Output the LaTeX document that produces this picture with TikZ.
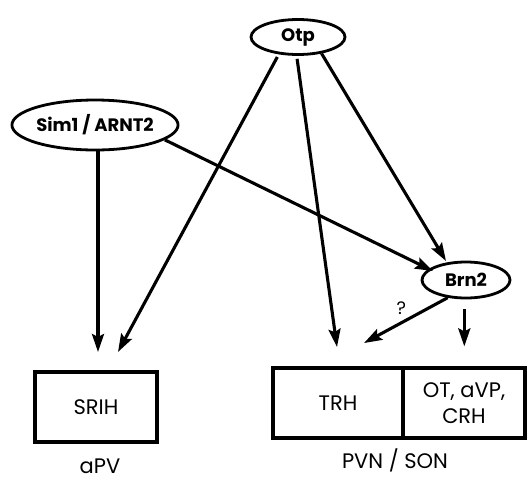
\documentclass[tikz,border=0pt]{standalone}
\usepackage{fontspec}
\setmainfont{Poppins}
\usetikzlibrary{arrows.meta,shapes.geometric}
\begin{document}
\begin{tikzpicture}[x=1pt,y=-1pt,
  ell/.style={ellipse,draw,line width=2.8pt,inner sep=0pt,font=\fontsize{18}{20}\selectfont\bfseries},
  cellbox/.style={rectangle,draw,line width=3.4pt,inner sep=0pt,minimum height=70pt,align=center,font=\fontsize{21}{26}\selectfont},
  lbl/.style={font=\fontsize{21}{25}\selectfont,inner sep=1pt},
  arr/.style={line width=3.1pt,-{Stealth[length=18pt,width=12pt,inset=3pt]}}]
\useasboundingbox (0,0) rectangle (527,483);
\node[ell,minimum width=94pt,minimum height=35pt] (otp) at (298,37) {Otp};
\node[ell,minimum width=166pt,minimum height=50pt] (sim) at (95,125) {Sim1 / ARNT2};
\node[ell,minimum width=88pt,minimum height=36pt] (brn) at (466,280) {Brn2};
\node[cellbox,minimum width=122pt] (srih) at (96,407) {SRIH};
\node[cellbox,minimum width=130pt] (trh) at (338,403) {TRH};
\node[cellbox,minimum width=122pt] (ot) at (464,403) {OT, aVP,\\CRH};
\node[lbl] (apv) at (100,466) {aPV};
\node[lbl] (pvn) at (395,460) {PVN / SON};
\coordinate (t1) at (98,352);
\coordinate (t2) at (118,352);
\coordinate (t3) at (337,347);
\coordinate (t4) at (446,261);
\coordinate (t5) at (433,271);
\coordinate (t6) at (364,343);
\draw[arr] (sim.south -| t1) -- (t1);
\draw[arr,shorten <=3pt] (otp.222) -- (t2);
\draw[arr,shorten <=3pt] (otp.266) -- (t3);
\draw[arr] (otp.325) -- (t4);
\draw[arr] (sim.348) -- (t5);
\draw[arr] (brn.224) -- node[pos=0.45,above left=-1pt,font=\fontsize{18}{20}\selectfont] (q) {?} (t6);
\draw[arr] ([yshift=-10pt]brn.265) -- ([yshift=-47pt]brn.265);
\end{tikzpicture}
\end{document}
